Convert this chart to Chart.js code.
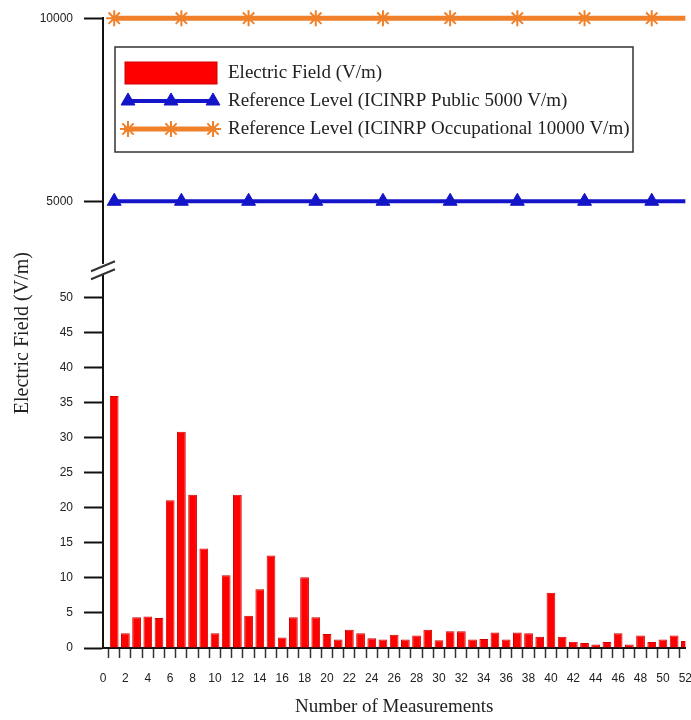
<!DOCTYPE html>
<html>
<head>
<meta charset="utf-8">
<script src="https://cdn.jsdelivr.net/npm/chart.js@4.4.0/dist/chart.umd.min.js"></script>
<style>
    html, body { margin: 0; padding: 0; background: #fff; overflow: hidden; }
    #wrap { width: 705px; height: 720px; }
</style>
</head>
<body>
<div id="wrap"><canvas id="fieldChart"></canvas></div>
<script>
// measurement numbers and measured electric field (V/m)
const measurements = [1, 2, 3, 4, 5, 6, 7, 8, 9, 10, 11, 12, 13, 14, 15, 16, 17, 18, 19, 20,
    21, 22, 23, 24, 25, 26, 27, 28, 29, 30, 31, 32, 33, 34, 35, 36, 37, 38, 39, 40,
    41, 42, 43, 44, 45, 46, 47, 48, 49, 50, 51, 52];
const fieldValues = [36, 2.1, 4.4, 4.5, 4.3, 21.1, 30.9, 21.9, 14.2, 2.1,
    10.4, 21.9, 4.6, 8.4, 13.2, 1.5, 4.4, 10.1, 4.4, 2.0,
    1.2, 2.6, 2.1, 1.4, 1.2, 1.9, 1.2, 1.8, 2.6, 1.1,
    2.4, 2.4, 1.2, 1.3, 2.2, 1.2, 2.2, 2.1, 1.6, 7.9,
    1.6, 0.9, 0.7, 0.5, 0.85, 2.1, 0.5, 1.8, 0.85, 1.2,
    1.8, 1.0];
const publicLevel = 5000;
const occupationalLevel = 10000;
const lowerTicks = [0, 5, 10, 15, 20, 25, 30, 35, 40, 45, 50];
const upperTicks = [5000, 10000];
const seriesLabels = [
    'Electric Field (V/m)',
    'Reference Level (ICINRP Public 5000 V/m)',
    'Reference Level (ICINRP Occupational 10000 V/m)'
];

const sans = "'Liberation Sans', Arial, sans-serif";
const serif = "'Liberation Serif', 'Times New Roman', serif";
const textColor = '#222';

// marker on every 6th point, like the original
function markerRadius(ctx) {
    return ctx.dataIndex % 6 === 0 ? 8 : 0;
}

// y-axis title centred on the whole (broken) axis
const yTitlePlugin = {
    id: 'yTitle',
    afterDraw(chart) {
        const ctx = chart.ctx;
        const area = chart.chartArea;
        ctx.save();
        ctx.translate(23, (area.top + area.bottom) / 2);
        ctx.rotate(-Math.PI / 2);
        ctx.font = '20px ' + serif;
        ctx.fillStyle = textColor;
        ctx.textAlign = 'center';
        ctx.textBaseline = 'middle';
        ctx.fillText('Electric Field (V/m)', 0, 0);
        ctx.restore();
    }
};

// the // break marks between the two stacked y axes
const axisBreakPlugin = {
    id: 'axisBreak',
    afterDraw(chart) {
        const ctx = chart.ctx;
        const xa = chart.chartArea.left;
        const yb = chart.scales.y.top;
        ctx.save();
        ctx.fillStyle = '#fff';
        ctx.fillRect(xa - 3, yb - 6, 6, 11);
        ctx.strokeStyle = '#333';
        ctx.lineWidth = 2;
        ctx.beginPath();
        ctx.moveTo(xa - 12, yb + 1.3);
        ctx.lineTo(xa + 12, yb - 8.7);
        ctx.moveTo(xa - 12, yb + 9.3);
        ctx.lineTo(xa + 12, yb - 0.7);
        ctx.stroke();
        ctx.restore();
    }
};

// boxed legend drawn inside the plot, with line + markers samples
const boxLegendPlugin = {
    id: 'boxLegend',
    afterDraw(chart) {
        const ctx = chart.ctx;
        const ds = chart.data.datasets;
        const box = { left: 115, top: 47, right: 633, bottom: 152 };
        const rows = [73, 101, 129];
        ctx.save();
        ctx.fillStyle = '#fff';
        ctx.fillRect(box.left, box.top, box.right - box.left, box.bottom - box.top);
        ctx.strokeStyle = '#333';
        ctx.lineWidth = 1.5;
        ctx.strokeRect(box.left, box.top, box.right - box.left, box.bottom - box.top);

        // bar sample
        ctx.fillStyle = ds[0].backgroundColor;
        ctx.fillRect(125, 62, 92, 22);
        ctx.strokeStyle = ds[0].borderColor;
        ctx.lineWidth = 1;
        ctx.strokeRect(125, 62, 92, 22);

        // line samples
        [1, 2].forEach(function(i) {
            const y = rows[i];
            ctx.strokeStyle = ds[i].borderColor;
            ctx.lineWidth = ds[i].borderWidth;
            ctx.beginPath();
            ctx.moveTo(124, y);
            ctx.lineTo(216, y);
            ctx.stroke();
            ctx.fillStyle = ds[i].pointBackgroundColor;
            ctx.strokeStyle = ds[i].pointBorderColor;
            ctx.lineWidth = ds[i].pointBorderWidth;
            [128, 171, 213].forEach(function(x) {
                Chart.helpers.drawPoint(ctx, {
                    pointStyle: ds[i].pointStyle,
                    radius: 8,
                    rotation: 0,
                    borderWidth: ds[i].pointBorderWidth
                }, x, y);
            });
        });

        ctx.font = '19px ' + serif;
        ctx.fillStyle = textColor;
        ctx.textAlign = 'left';
        ctx.textBaseline = 'middle';
        seriesLabels.forEach(function(label, i) {
            ctx.fillText(label, 228, rows[i]);
        });
        ctx.restore();
    }
};

document.addEventListener('DOMContentLoaded', function() {
    const ctx = document.getElementById('fieldChart').getContext('2d');

    new Chart(ctx, {
        type: 'bar',
        data: {
            datasets: [{
                label: seriesLabels[0],
                data: measurements.map((m, i) => ({ x: m, y: fieldValues[i] })),
                backgroundColor: '#ff0000',
                borderColor: '#d00000',
                borderWidth: 1,
                categoryPercentage: 1,
                barPercentage: 0.78,
                xAxisID: 'x',
                yAxisID: 'y'
            }, {
                type: 'line',
                label: seriesLabels[1],
                data: measurements.map(m => ({ x: m, y: publicLevel })),
                borderColor: '#1414c8',
                borderWidth: 4,
                pointStyle: 'triangle',
                pointRadius: markerRadius,
                pointBackgroundColor: '#1414c8',
                pointBorderColor: '#1414c8',
                pointBorderWidth: 1,
                clip: false,
                xAxisID: 'x',
                yAxisID: 'y2'
            }, {
                type: 'line',
                label: seriesLabels[2],
                data: measurements.map(m => ({ x: m, y: occupationalLevel })),
                borderColor: '#f0802a',
                borderWidth: 5,
                pointStyle: 'star',
                pointRadius: markerRadius,
                pointBackgroundColor: '#f0802a',
                pointBorderColor: '#f0802a',
                pointBorderWidth: 2,
                clip: false,
                xAxisID: 'x',
                yAxisID: 'y2'
            }]
        },
        options: {
            responsive: true,
            maintainAspectRatio: false,
            animation: false,
            events: [],
            devicePixelRatio: 1,
            layout: { padding: { top: 15, right: 0, bottom: 0, left: 0 } },
            plugins: {
                legend: { display: false },
                tooltip: { enabled: false }
            },
            scales: {
                x: {
                    type: 'linear',
                    min: 0,
                    max: 52,
                    offset: false,
                    grid: {
                        drawOnChartArea: false,
                        tickLength: 10,
                        tickColor: '#333',
                        tickWidth: 1.5
                    },
                    border: { color: '#111', width: 2 },
                    ticks: {
                        stepSize: 1,
                        autoSkip: false,
                        maxRotation: 0,
                        padding: 13,
                        color: textColor,
                        font: { family: sans, size: 12 },
                        callback: v => (v % 2 === 0 ? v : '')
                    },
                    title: {
                        display: true,
                        text: 'Number of Measurements',
                        color: textColor,
                        font: { family: serif, size: 19 },
                        padding: { top: 0, bottom: 2 }
                    },
                    afterFit: s => { s.height = 72; }
                },
                y: {
                    type: 'linear',
                    position: 'left',
                    stack: 'field',
                    stackWeight: 380,
                    min: 0,
                    max: 54,
                    grid: {
                        drawOnChartArea: false,
                        tickLength: 19,
                        tickColor: '#111',
                        tickWidth: 2
                    },
                    border: { color: '#111', width: 2 },
                    ticks: {
                        padding: 11,
                        color: textColor,
                        font: { family: sans, size: 12 },
                        callback: v => String(v)
                    },
                    afterBuildTicks: s => { s.ticks = lowerTicks.map(v => ({ value: v })); },
                    afterFit: s => { s.width = 103; }
                },
                y2: {
                    type: 'linear',
                    position: 'left',
                    stack: 'field',
                    stackWeight: 253,
                    min: 3125,
                    max: 10000,
                    grid: {
                        drawOnChartArea: false,
                        tickLength: 19,
                        tickColor: '#111',
                        tickWidth: 2
                    },
                    border: { color: '#111', width: 2 },
                    ticks: {
                        padding: 11,
                        color: textColor,
                        font: { family: sans, size: 12 },
                        callback: v => String(v)
                    },
                    afterBuildTicks: s => { s.ticks = upperTicks.map(v => ({ value: v })); },
                    afterFit: s => { s.width = 103; }
                }
            }
        },
        plugins: [yTitlePlugin, axisBreakPlugin, boxLegendPlugin]
    });
});
</script>
</body>
</html>
